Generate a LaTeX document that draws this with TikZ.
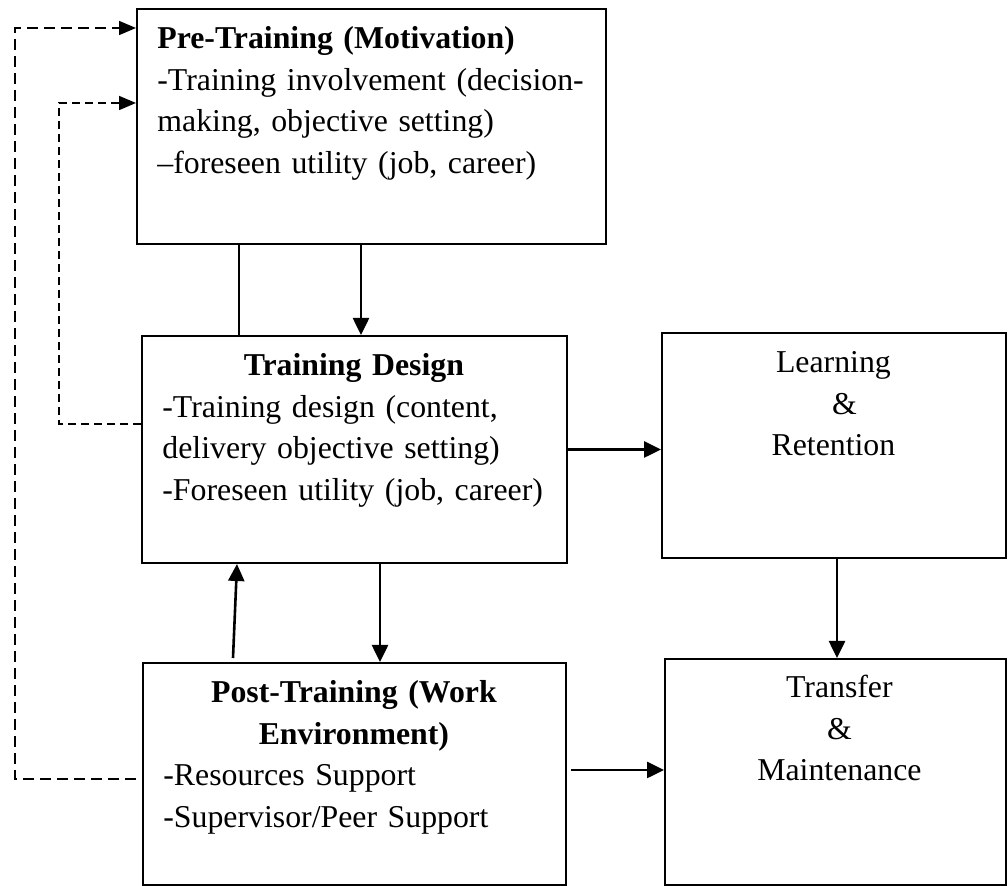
\documentclass[tikz,border=0pt]{standalone}
\usepackage{fontspec}
\setmainfont{Liberation Serif}
\usetikzlibrary{arrows.meta,calc}
\tikzset{
  stage/.style={draw,line width=1pt,inner sep=0pt,anchor=north west},
  stagetext/.style={
    anchor=base west,inner sep=0pt,align=left,
    font=\fontsize{15.9pt}{20.75pt}\selectfont
  },
  arrow/.style={-{Triangle[length=8.5pt,width=8pt]},line width=1.3pt},
  feedback/.style={
    -{Triangle[length=8.5pt,width=7pt]},line width=0.8pt,
    dash pattern=on 5.5pt off 3pt
  }
}
\newcommand{\stagetitle}[1]{\makebox[\linewidth]{\textbf{#1}}}

\begin{document}
\begin{tikzpicture}[x=0.5pt,y=-0.5pt]
  \useasboundingbox (0,0) rectangle (1008,886);
  % stages
  \node[stage,minimum width=234.5pt,minimum height=117.5pt] (pre) at (136,8) {};
  \node[stage,minimum width=212.5pt,minimum height=113.5pt] (td) at (141,335) {};
  \node[stage,minimum width=172pt,minimum height=112.5pt] (lr) at (661,332) {};
  \node[stage,minimum width=211.5pt,minimum height=111pt] (post) at (142,662) {};
  \node[stage,minimum width=170.5pt,minimum height=113pt] (tm) at (664,658) {};
  % texts
  \node[stagetext,text width=224pt] (pretext) at ($(pre.north west)+(21,41)$)
    {\textbf{Pre-Training (Motivation)}\\
     -Training involvement (decision-\\
     making, objective setting)\\
     –foreseen utility (job, career)};
  \node[stagetext,text width=191.5pt] (tdtext) at ($(td.north west)+(21,41)$)
    {\stagetitle{Training Design}\\
     -Training design (content,\\
     delivery objective setting)\\
     -Foreseen utility (job, career)};
  \node[stagetext,text width=151pt,align=center] (lrtext) at ($(lr.north west)+(21,41)$)
    {Learning\\ \hspace*{0.7em}\&\\ Retention};
  \node[stagetext,text width=190.5pt] (posttext) at ($(post.north west)+(21,41)$)
    {\stagetitle{Post-Training (Work}\\
     \stagetitle{Environment)}\\
     -Resources Support\\
     -Supervisor/Peer Support};
  \node[stagetext,text width=150pt,align=center] (tmtext) at ($(tm.north west)+(25,40)$)
    {Transfer\\ \&\\ Maintenance};
  % connectors
  \draw[line width=1pt] ($(pre.south west)+(103,0)$) -- ($(td.north west)+(98,0)$);
  \draw[arrow] ($(pre.south west)+(225,0)$) -- ($(td.north west)+(220,0)$);
  \draw[arrow] ($(td.south west)+(239,0)$) -- ($(post.north west)+(238,0)$);
  \draw[arrow] ($(post.north west)+(91,-4)$) -- ($(td.south west)+(96,0)$);
  \draw[arrow] (td.east) -- (td.east -| lr.west);
  \draw[arrow] ($(lr.south)+(3,0)$) -- ($(tm.north)+(1.5,0)$);
  \draw[arrow] ($(post.east)+(4,-4)$) -- ($(tm.west)+(0,-2)$);
  % feedback loops
  \draw[feedback,dash pattern=on 4pt off 2.5pt] ($(td.west)+(0,-25.5)$) -- ++(-82,0)
    |- ($(pre.north west)+(0,95)$);
  \draw[feedback] ($(post.west)+(-6,5)$) -- ++(-121,0)
    |- ($(pre.north west)+(0,20)$);
\end{tikzpicture}
\end{document}
